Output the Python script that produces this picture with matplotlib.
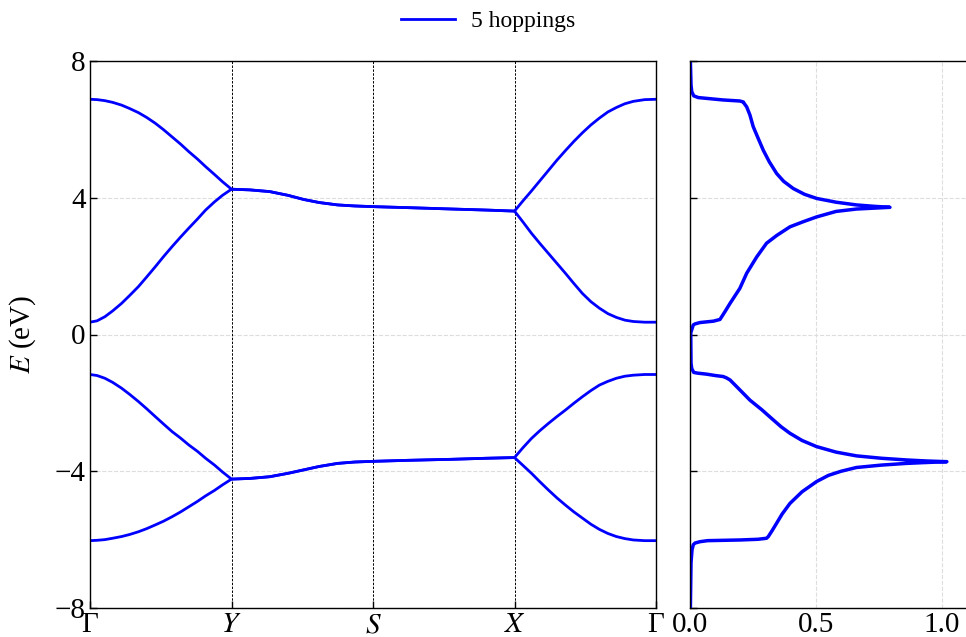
import numpy as np
import matplotlib
matplotlib.use("Agg")
import matplotlib.pyplot as plt

plt.rcParams['font.family'] = ['Liberation Serif', 'DejaVu Serif']
plt.rcParams['mathtext.fontset'] = 'stix'

# ---- data ----
path_labels = ['Γ', '$Y$', '$S$', '$X$', 'Γ']
path_ticks = [0, 1, 2, 3, 4]

k_GY = [0, 0.05, 0.105, 0.16, 0.223, 0.28, 0.342, 0.40, 0.461, 0.52, 0.580,
        0.64, 0.698, 0.76, 0.817, 0.88, 0.936, 1.0]
k_YS = [0, 0.13, 0.27, 0.40, 0.51, 0.62, 0.75, 0.87, 1.0]
k_SX = [0, 0.25, 0.56, 0.80, 1.0]
k_XG = [0, 0.06, 0.12, 0.18, 0.24, 0.30, 0.36, 0.42, 0.48, 0.54, 0.60,
        0.66, 0.72, 0.78, 0.84, 0.92, 1.0]

band4_GY = [6.88, 6.87, 6.84, 6.79, 6.71, 6.61, 6.49, 6.35, 6.18, 5.99, 5.78,
            5.57, 5.35, 5.13, 4.91, 4.68, 4.47, 4.25]
band4_YS = [4.25, 4.23, 4.18, 4.07, 3.95, 3.86, 3.79, 3.76, 3.74]
band4_SX = [3.74, 3.71, 3.67, 3.64, 3.61]
band4_XG = [3.61, 3.91, 4.20, 4.50, 4.80, 5.10, 5.38, 5.65, 5.90, 6.13, 6.33,
            6.51, 6.64, 6.75, 6.82, 6.87, 6.88]

band3_GY = [0.36, 0.40, 0.52, 0.69, 0.91, 1.14, 1.40, 1.68, 1.98, 2.28, 2.57,
            2.85, 3.11, 3.38, 3.64, 3.88, 4.07, 4.25]
band3_YS = band4_YS
band3_SX = band4_SX
band3_XG = [3.61, 3.29, 2.96, 2.66, 2.37, 2.08, 1.79, 1.49, 1.20, 0.96, 0.77,
            0.61, 0.50, 0.42, 0.38, 0.36, 0.36]

band2_GY = [-1.17, -1.20, -1.28, -1.40, -1.57, -1.75, -1.96, -2.17, -2.40, -2.62,
            -2.84, -3.03, -3.23, -3.42, -3.62, -3.82, -4.02, -4.23]
band2_YS = [-4.23, -4.21, -4.16, -4.06, -3.96, -3.86, -3.77, -3.73, -3.71]
band2_SX = [-3.71, -3.68, -3.65, -3.62, -3.60]
band2_XG = [-3.60, -3.31, -3.04, -2.81, -2.60, -2.40, -2.21, -2.01, -1.82, -1.64,
            -1.48, -1.37, -1.28, -1.22, -1.19, -1.17, -1.17]

band1_GY = [-6.03, -6.02, -6.00, -5.96, -5.91, -5.85, -5.77, -5.68, -5.57, -5.46,
            -5.33, -5.19, -5.04, -4.88, -4.72, -4.56, -4.40, -4.23]
band1_YS = band2_YS
band1_SX = band2_SX
band1_XG = [-3.60, -3.83, -4.06, -4.31, -4.55, -4.78, -4.99, -5.19, -5.37, -5.55,
            -5.70, -5.82, -5.91, -5.97, -6.01, -6.03, -6.03]

dos_E = [-8.0, -6.68, -6.30, -6.15, -6.10, -6.06, -6.03, -6.01, -5.99, -5.96,
         -5.91, -5.75, -5.52, -5.25, -4.94, -4.60, -4.30, -4.12, -4.00, -3.89,
         -3.82, -3.77, -3.75, -3.72, -3.70, -3.67, -3.62, -3.55, -3.44, -3.28,
         -3.10, -2.89, -2.70, -2.50, -2.20, -1.92, -1.62, -1.33, -1.27, -1.23,
         -1.20, -1.16, -1.13, -1.11, -1.00, -0.84, 0.00, 0.05, 0.28, 0.31,
         0.35, 0.39, 0.44, 0.67, 0.91, 1.35, 1.79, 2.27, 2.67, 2.90,
         3.15, 3.30, 3.44, 3.60, 3.67, 3.72, 3.75, 3.79, 3.87, 3.98,
         4.10, 4.27, 4.48, 4.71, 5.05, 5.39, 5.75, 6.08, 6.42, 6.66,
         6.76, 6.80, 6.83, 6.86, 6.93, 6.98, 7.10, 7.30, 8.0]
dos_val = [0.0015, 0.004, 0.008, 0.013, 0.02, 0.04, 0.07, 0.20, 0.27, 0.304,
           0.311, 0.325, 0.344, 0.366, 0.397, 0.445, 0.503, 0.55, 0.60, 0.661,
           0.76, 0.86, 0.92, 1.02, 0.94, 0.86, 0.76, 0.661, 0.58, 0.503,
           0.445, 0.397, 0.362, 0.331, 0.285, 0.238, 0.198, 0.159, 0.145, 0.132,
           0.10, 0.066, 0.03, 0.015, 0.007, 0.004, 0.003, 0.003, 0.013, 0.02,
           0.04, 0.093, 0.119, 0.139, 0.159, 0.198, 0.225, 0.265, 0.304, 0.345,
           0.397, 0.45, 0.503, 0.58, 0.661, 0.794, 0.73, 0.661, 0.58, 0.503,
           0.455, 0.41, 0.372, 0.344, 0.315, 0.291, 0.270, 0.251, 0.238, 0.225,
           0.215, 0.212, 0.198, 0.132, 0.033, 0.015, 0.007, 0.004, 0.0015]

series_label = '5 hoppings'
color = '#0000ff'


def assemble(segs):
    ks, es = [], []
    for i, (k, e) in enumerate(segs):
        ks.extend([i + v for v in k])
        es.extend(e)
    return ks, es


bands = [
    [(k_GY, band1_GY), (k_YS, band1_YS), (k_SX, band1_SX), (k_XG, band1_XG)],
    [(k_GY, band2_GY), (k_YS, band2_YS), (k_SX, band2_SX), (k_XG, band2_XG)],
    [(k_GY, band3_GY), (k_YS, band3_YS), (k_SX, band3_SX), (k_XG, band3_XG)],
    [(k_GY, band4_GY), (k_YS, band4_YS), (k_SX, band4_SX), (k_XG, band4_XG)],
]

fig = plt.figure(figsize=(9.66, 6.37), dpi=100)
ax1 = fig.add_axes([90/966, 1-608/637, 566/966, 547/637])
ax2 = fig.add_axes([690/966, 1-608/637, 277/966, 547/637])

for i, segs in enumerate(bands):
    ks, es = assemble(segs)
    ax1.plot(ks, es, color=color, lw=2.0, label=series_label if i == 0 else None,
             solid_joinstyle='round')

for t in path_ticks[1:-1]:
    ax1.axvline(t, color='black', ls='--', lw=0.7, dashes=(2.5, 1.5), zorder=1)

ax1.set_xlim(0, 4)
ax1.set_ylim(-8, 8)
ax1.set_xticks(path_ticks)
ax1.set_xticklabels(path_labels)
ax1.set_yticks([-8, -4, 0, 4, 8])
ax1.set_yticklabels(['\u22128', '\u22124', '0', '4', '8'])
ax1.set_ylabel('$E$ (eV)', fontsize=21, labelpad=12)
ax1.grid(True, axis='y', color='#dddddd', ls='--', lw=0.8)
ax1.set_axisbelow(True)
ax1.tick_params(direction='in', labelsize=21, length=5, width=1, pad=3)

ax2.plot(dos_val, dos_E, color=color, lw=2.5, solid_joinstyle='round')
ax2.set_xlim(0, 1.1)
ax2.set_ylim(-8, 8)
ax2.set_xticks([0, 0.5, 1.0])
ax2.set_xticklabels(['0.0', '0.5', '1.0'])
ax2.set_yticks([-8, -4, 0, 4, 8])
ax2.set_yticklabels([])
ax2.grid(True, color='#dddddd', ls='--', lw=0.8)
ax2.set_axisbelow(True)
ax2.tick_params(direction='in', labelsize=21, length=5, width=1, pad=3)
ax2.tick_params(axis='x', length=0)

for ax in (ax1, ax2):
    for sp in ax.spines.values():
        sp.set_linewidth(1.0)

fig.legend(loc='upper center', bbox_to_anchor=(0.505, 1.017), frameon=False,
           fontsize=17, handlelength=2.3, handletextpad=0.65)

fig.savefig('out.png', dpi=100)
